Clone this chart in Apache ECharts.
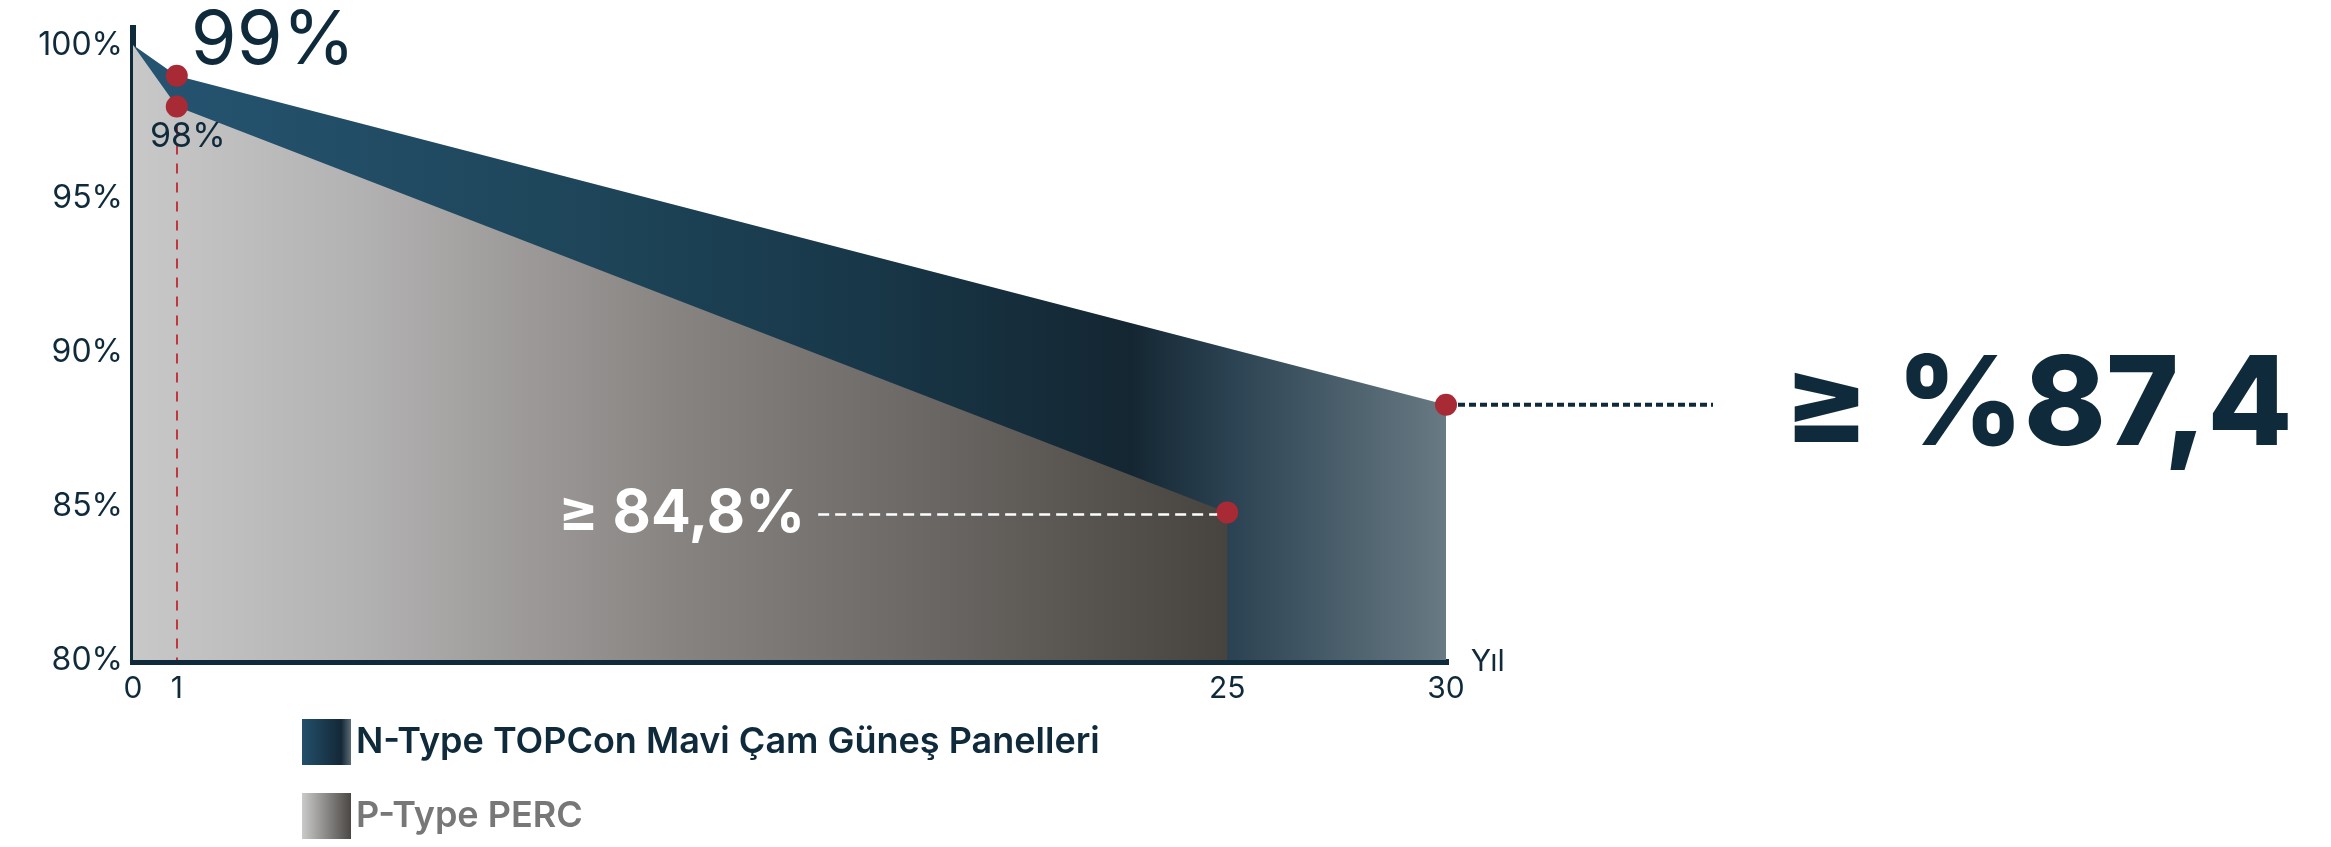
<!DOCTYPE html>
<html><head><meta charset="utf-8">
<script src="https://cdn.jsdelivr.net/npm/echarts@6/dist/echarts.min.js"></script>
<style>html,body{margin:0;padding:0;background:#fff}#c{width:2331px;height:847px}</style>
</head><body><div id="c"></div>
<script>
// ---- data ----
const nTypeName = 'N-Type TOPCon Mavi Çam Güneş Panelleri';
const pTypeName = 'P-Type PERC';
const nYears = [0, 1, 30];
const nValues = [100, 99, 88.3];
const pYears = [0, 1, 25];
const pValues = [100, 98, 84.8];
const xTickValues = [0, 1, 25, 30];
const yTickValues = [80, 85, 90, 95, 100];
const xAxisName = 'Yıl';
const label99 = '99%';
const label98 = '98%';
const labelP25 = '≥ 84,8%';
const labelN30 = '≥ %87,4';

// ---- styles ----
const FONT = 'Inter, "Open Sans", "DejaVu Sans", sans-serif';
const DARK = '#0f2a3a';
const RED = '#a82a35';
const G = echarts.graphic.LinearGradient;
const nGrad = new G(0, 0, 1, 0, [
  {offset: 0, color: '#255471'}, {offset: 0.35, color: '#1e4559'},
  {offset: 0.55, color: '#183849'}, {offset: 0.76, color: '#142632'},
  {offset: 0.835, color: '#2b4252'}, {offset: 1, color: '#687a83'}]);
const pGrad = new G(0, 0, 1, 0, [
  {offset: 0, color: '#c8c8c8'}, {offset: 0.2, color: '#b4b3b3'},
  {offset: 0.5, color: '#878381'}, {offset: 0.75, color: '#676461'},
  {offset: 1, color: '#47443f'}]);
const nSwatch = new G(0, 0, 1, 0, [
  {offset: 0, color: '#23506a'}, {offset: 0.8, color: '#142838'}, {offset: 1, color: '#5a6c75'}]);
const pSwatch = new G(0, 0, 1, 0, [
  {offset: 0, color: '#cacaca'}, {offset: 1, color: '#4a4744'}]);

const zip = (xs, ys) => xs.map((x, i) => [x, ys[i]]);
const nData = zip(nYears, nValues);
const pData = zip(pYears, pValues);
const dots = [nData[1], pData[1], pData[2], nData[2]];

const chart = echarts.init(document.getElementById('c'), null, {renderer: 'canvas'});
chart.setOption({
  animation: false,
  grid: {left: 133, right: 885, top: 28, bottom: 187, containLabel: false},
  xAxis: {
    type: 'value', min: 0, max: 30, offset: 2,
    axisLine: {show: true, onZero: false, lineStyle: {color: DARK, width: 6, cap: 'square'}},
    axisTick: {show: false}, splitLine: {show: false},
    axisLabel: {customValues: xTickValues, margin: 12, color: DARK, fontSize: 30, fontFamily: FONT},
    name: xAxisName, nameLocation: 'end', nameGap: 8,
    nameTextStyle: {color: DARK, fontSize: 30, fontFamily: FONT, verticalAlign: 'middle'}
  },
  yAxis: {
    type: 'value', min: 80, max: 100.55, offset: 3,
    axisLine: {show: true, lineStyle: {color: DARK, width: 6, cap: 'square'}},
    axisTick: {show: false}, splitLine: {show: false},
    axisLabel: {customValues: yTickValues, formatter: v => v + '%', margin: 7, color: DARK, fontSize: 32, fontFamily: FONT}
  },
  legend: {
    orient: 'vertical', left: 297, top: 714, itemWidth: 49, itemHeight: 46, itemGap: 28, icon: 'rect',
    textStyle: {fontSize: 36, fontWeight: 600, fontFamily: FONT},
    data: [
      {name: nTypeName, itemStyle: {color: nSwatch}, textStyle: {color: DARK}},
      {name: pTypeName, itemStyle: {color: pSwatch}, textStyle: {color: '#777777'}}
    ]
  },
  series: [
    {name: nTypeName, type: 'line', data: nData, symbol: 'none', lineStyle: {width: 0, opacity: 0},
     areaStyle: {color: nGrad, opacity: 1}, z: 2, silent: true},
    {name: pTypeName, type: 'line', data: pData, symbol: 'none', lineStyle: {width: 0, opacity: 0},
     areaStyle: {color: pGrad, opacity: 1}, z: 3, silent: true},
    {type: 'scatter', data: dots, symbolSize: 22, itemStyle: {color: RED, opacity: 1}, z: 10, silent: true,
     markLine: {silent: true, symbol: 'none', label: {show: false},
       lineStyle: {color: '#c0353e', type: [10, 9], width: 2},
       data: [[{coord: pData[1]}, {coord: [pData[1][0], 80]}]]}}
  ]
});

// ---- annotations anchored to data points ----
const px = d => chart.convertToPixel({gridIndex: 0}, d);
const p99 = px(nData[1]), p98 = px(pData[1]), pP = px(pData[2]), pN = px(nData[2]);
chart.setOption({
  graphic: [
    {type: 'text', x: p99[0] + 14, y: p99[1] - 34, z: 20,
     style: {text: label99, fill: DARK, fontSize: 74, fontFamily: FONT, fontWeight: 400, verticalAlign: 'middle', align: 'left'}},
    {type: 'text', x: p98[0] + 11, y: p98[1] + 30, z: 20,
     style: {text: label98, fill: DARK, fontSize: 34, fontFamily: FONT, fontWeight: 400, verticalAlign: 'middle', align: 'center'}},
    {type: 'line', z: 15, shape: {x1: pP[0] - 409, y1: pP[1] + 2, x2: pP[0] - 10, y2: pP[1] + 2},
     style: {stroke: '#ffffff', lineWidth: 2.5, lineDash: [11, 6]}},
    {type: 'text', x: pP[0] - 422, y: pP[1] + 2, z: 20,
     style: {text: labelP25, fill: '#ffffff', fontSize: 59, fontFamily: FONT, fontWeight: 700, verticalAlign: 'middle', align: 'right'}},
    {type: 'line', z: 15, shape: {x1: pN[0] + 12, y1: pN[1], x2: pN[0] + 267, y2: pN[1]},
     style: {stroke: DARK, lineWidth: 4, lineDash: [7, 4]}},
    {type: 'text', x: pN[0] + 338, y: pN[1] + 3, z: 20,
     style: {text: labelN30, fill: DARK, fontSize: 124, fontFamily: FONT, fontWeight: 800, verticalAlign: 'middle', align: 'left'}}
  ]
});
</script></body></html>
